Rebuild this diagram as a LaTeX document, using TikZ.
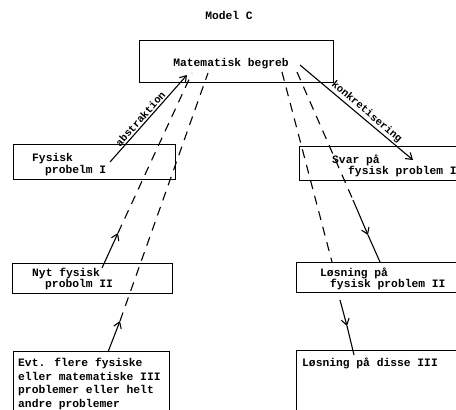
\documentclass[tikz,border=0pt]{standalone}
\usepackage{fontspec}
\setmainfont{Liberation Mono}
\usetikzlibrary{arrows.meta}
\tikzset{
  box/.style={draw, line width=1.3pt, inner sep=0pt, anchor=north west},
  txt/.style={font=\bfseries\fontsize{11.3}{13}\selectfont, inner sep=0pt, anchor=base west},
  lbl/.style={font=\bfseries\fontsize{10.5}{12}\selectfont, inner sep=1.5pt, sloped, above},
  link/.style={line width=1.1pt},
  dlink/.style={line width=1.1pt, dash pattern=on 9pt off 7pt},
  tip/.style={-{Straight Barb[length=6pt,width=8pt,line width=1.1pt]}},
}
\begin{document}
\begin{tikzpicture}[x=1pt,y=-1pt]
\useasboundingbox (0,0) rectangle (456,410);

% title
\node[font=\bfseries\fontsize{11.3}{13}\selectfont, inner sep=0pt] (title) at (229,15) {Model C};

% boxes
\node[box, minimum width=194pt, minimum height=42pt] (mb) at (139,40) {};
\node[box, minimum width=162pt, minimum height=35pt] (f1) at (13,144) {};
\node[box, minimum width=160pt, minimum height=30pt] (f2) at (12,263) {};
\node[box, minimum width=156pt, minimum height=62pt] (f3) at (13,351) {};
\node[box, minimum width=165pt, minimum height=34pt] (s1) at (299,146) {};
\node[box, minimum width=168pt, minimum height=30pt] (s2) at (296,262) {};
\node[box, minimum width=168pt, minimum height=62pt] (s3) at (296,350) {};

% texts
\node[font=\bfseries\fontsize{11.3}{13}\selectfont, inner sep=0pt] (tmb) at (231,64) {Matematisk begreb};
\node[txt] (tf1a) at (32,161) {Fysisk};
\node[txt] (tf1b) at (45,173) {probelm I};
\node[txt] (tf2a) at (32,276) {Nyt fysisk};
\node[txt] (tf2b) at (45,287) {probolm II};
\node[txt] (tf3a) at (18,366) {Evt. flere fysiske};
\node[txt] (tf3b) at (18,380) {eller matematiske III};
\node[txt] (tf3c) at (18,393) {problemer eller helt};
\node[txt] (tf3d) at (18,407) {andre problemer};
\node[txt] (ts1a) at (332,163) {Svar på};
\node[txt] (ts1b) at (348,174) {fysisk problem I};
\node[txt] (ts2a) at (320,276) {Løsning på};
\node[txt] (ts2b) at (330,287) {fysisk problem II};
\node[txt] (ts3a) at (302,366) {Løsning på disse III};

% connector end points
\coordinate (a0) at (110,162);  \coordinate (a1) at (187,75);
\coordinate (k0) at (300,65);   \coordinate (k1) at (413,160);
\coordinate (p0) at (108,352);  \coordinate (p1) at (120,321);  \coordinate (p2) at (208,73);
\coordinate (q0) at (102,268);  \coordinate (q1) at (118,233);  \coordinate (q2) at (192,73);
\coordinate (r0) at (282,72);   \coordinate (r1) at (332,262);
\coordinate (u0) at (297,72);   \coordinate (u1) at (353,200);  \coordinate (u2) at (368,235);  \coordinate (u3) at (380,262);
\coordinate (v0) at (340,300);  \coordinate (v1) at (347,326);  \coordinate (v2) at (354,355);

% abstraction and concretisation
\draw[link, tip] (a0) -- node[lbl, pos=0.45] {abstraktion} (a1);
\draw[link, tip] (k0) -- node[lbl, pos=0.55] {konkretisering} (k1);

% upward paths on the left
\draw[link, tip] (p0) -- (p1);
\draw[dlink] (p1) -- (p2);
\draw[link, tip] (q0) -- (q1);
\draw[dlink] (q1) -- (q2);

% downward paths on the right
\draw[dlink] (r0) -- (r1);
\draw[dlink] (u0) -- (u1);
\draw[link, tip] (u1) -- (u2);
\draw[link] (u2) -- (u3);
\draw[link, tip] (v0) -- (v1);
\draw[link] (v1) -- (v2);
\end{tikzpicture}
\end{document}
